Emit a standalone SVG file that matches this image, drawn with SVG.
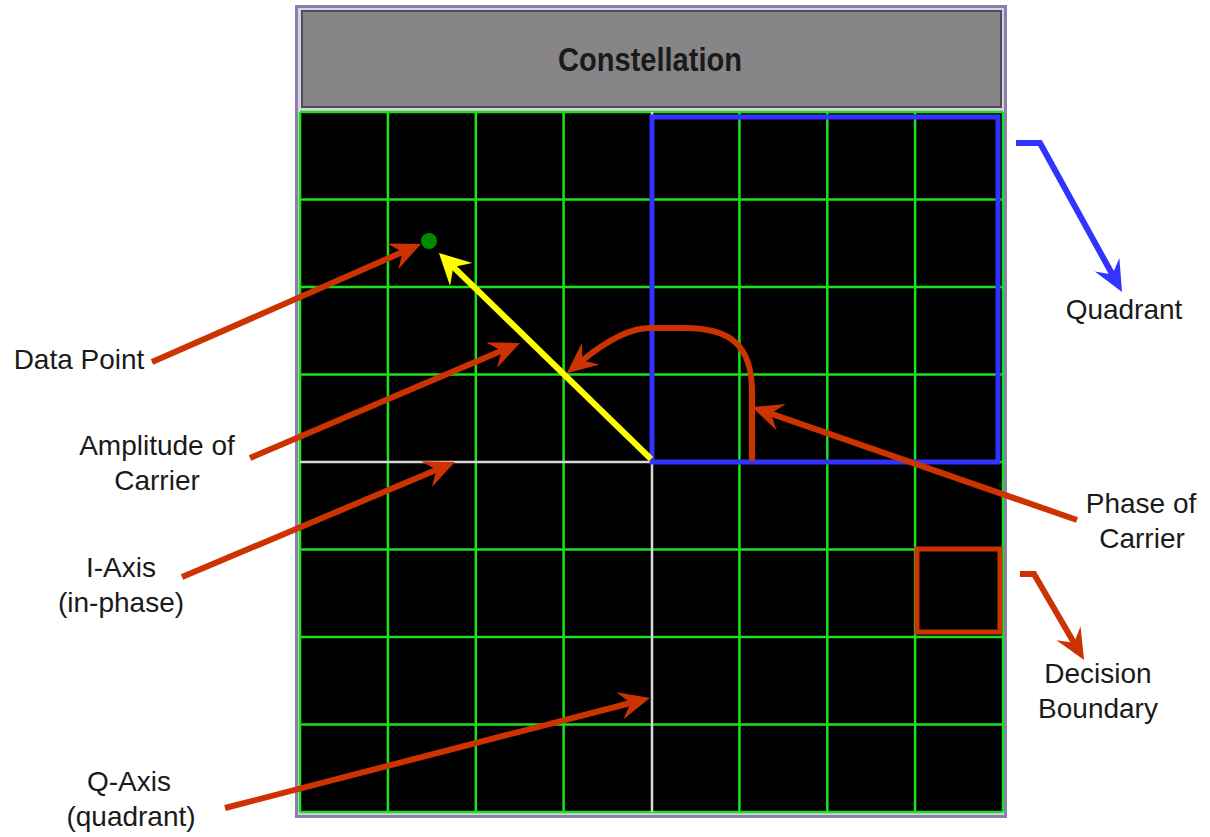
<svg xmlns="http://www.w3.org/2000/svg" width="1210" height="837" viewBox="0 0 1210 837">
<style>
.lbl{font-family:"Liberation Sans",Arial,sans-serif;font-size:28px;fill:#1a1a1a;text-anchor:middle}
.grid line{stroke:#1be01b;stroke-width:2.5}
.axis{stroke:#d8d8d8;stroke-width:2.5}
.red{fill:none;stroke:#cc3300;stroke-width:6}
.blue{fill:none;stroke:#3333ff;stroke-width:6}
</style>
<defs>
<marker id="ahRed" markerUnits="userSpaceOnUse" viewBox="-12 -16 34 32" markerWidth="34" markerHeight="32" refX="0" refY="0" orient="auto">
<path d="M20,0 L-11,-14 L0,0 L-11,14 Z" fill="#cc3300"/>
</marker>
<marker id="ahBlue" markerUnits="userSpaceOnUse" viewBox="-12 -16 34 32" markerWidth="34" markerHeight="32" refX="0" refY="0" orient="auto">
<path d="M20,0 L-11,-14 L0,0 L-11,14 Z" fill="#3333ff"/>
</marker>
<marker id="ahYellow" markerUnits="userSpaceOnUse" viewBox="-12 -18 34 36" markerWidth="34" markerHeight="36" refX="0" refY="0" orient="auto">
<path d="M20,0 L-11,-16 L0,0 L-11,16 Z" fill="#ffff00"/>
</marker>
</defs>
<rect width="1210" height="837" fill="#ffffff"/>

<g id="frame">
<rect x="296.5" y="6.5" width="709" height="810" fill="#d6d2e2" stroke="#8a7fae" stroke-width="3"/>
<rect x="302" y="11" width="699" height="96" fill="#878587" stroke="#4e4c58" stroke-width="2"/>
<text x="650" y="71" font-family="'Liberation Sans Narrow','Liberation Sans',Arial,sans-serif" font-weight="bold" font-size="33" fill="#1a1a1a" text-anchor="middle" textLength="184" lengthAdjust="spacingAndGlyphs">Constellation</text>
</g>

<g id="plot">
<rect x="300" y="112" width="703" height="700" fill="#000000"/>
<g class="grid">
<line x1="300" y1="112" x2="300" y2="812"/>
<line x1="387.9" y1="112" x2="387.9" y2="812"/>
<line x1="475.8" y1="112" x2="475.8" y2="812"/>
<line x1="563.6" y1="112" x2="563.6" y2="812"/>
<line x1="739.4" y1="112" x2="739.4" y2="812"/>
<line x1="827.3" y1="112" x2="827.3" y2="812"/>
<line x1="915.1" y1="112" x2="915.1" y2="812"/>
<line x1="1003" y1="112" x2="1003" y2="812"/>
<line x1="300" y1="112" x2="1003" y2="112"/>
<line x1="300" y1="199.5" x2="1003" y2="199.5"/>
<line x1="300" y1="287" x2="1003" y2="287"/>
<line x1="300" y1="374.5" x2="1003" y2="374.5"/>
<line x1="652" y1="462" x2="1003" y2="462"/>
<line x1="300" y1="549.5" x2="1003" y2="549.5"/>
<line x1="300" y1="637" x2="1003" y2="637"/>
<line x1="300" y1="724.5" x2="1003" y2="724.5"/>
<line x1="300" y1="812" x2="1003" y2="812"/>
</g>
<line class="axis" x1="652" y1="112" x2="652" y2="812"/>
<line class="axis" x1="300" y1="462" x2="652" y2="462"/>
</g>

<g id="quadrant-box">
<rect x="652" y="117" width="346" height="345" fill="none" stroke="#3333ff" stroke-width="5"/>
</g>
<g id="decision-box">
<rect x="917" y="549" width="83" height="83" fill="none" stroke="#cc3300" stroke-width="5"/>
</g>
<g id="data-point">
<circle cx="429" cy="241" r="8" fill="#008a00"/>
</g>

<g id="connectors">
<line x1="651" y1="459" x2="453.3" y2="266.9" stroke="#ffff00" stroke-width="6" marker-end="url(#ahYellow)"/>
<path class="red" d="M752,461 L752,392 C752,345 730,328 685,328 L650,328 C630,328 605,342 582.3,360.5" marker-end="url(#ahRed)"/>
<line class="red" x1="152" y1="362" x2="402.7" y2="252" marker-end="url(#ahRed)"/>
<line class="red" x1="250" y1="458" x2="501.6" y2="350.8" marker-end="url(#ahRed)"/>
<line class="red" x1="182" y1="577" x2="436.6" y2="469.8" marker-end="url(#ahRed)"/>
<line class="red" x1="225" y1="808" x2="630.6" y2="703" marker-end="url(#ahRed)"/>
<line class="red" x1="1077" y1="520" x2="770.9" y2="413.6" marker-end="url(#ahRed)"/>
<path class="red" d="M1020,574 L1034,574 L1074,642.7" marker-end="url(#ahRed)"/>
<path class="blue" d="M1016,143 L1040,143 L1112.4,274.5" marker-end="url(#ahBlue)"/>
</g>

<g id="label-data-point"><text class="lbl" x="79" y="369">Data Point</text></g>
<g id="label-amplitude"><text class="lbl" x="157" y="455">Amplitude of</text><text class="lbl" x="157" y="490">Carrier</text></g>
<g id="label-i-axis"><text class="lbl" x="121" y="577">I-Axis</text><text class="lbl" x="121" y="612">(in-phase)</text></g>
<g id="label-q-axis"><text class="lbl" x="129" y="791">Q-Axis</text><text class="lbl" x="131" y="826">(quadrant)</text></g>
<g id="label-quadrant"><text class="lbl" x="1124" y="319">Quadrant</text></g>
<g id="label-phase"><text class="lbl" x="1141" y="513">Phase of</text><text class="lbl" x="1142" y="548">Carrier</text></g>
<g id="label-decision"><text class="lbl" x="1098" y="683">Decision</text><text class="lbl" x="1098" y="718">Boundary</text></g>
</svg>
